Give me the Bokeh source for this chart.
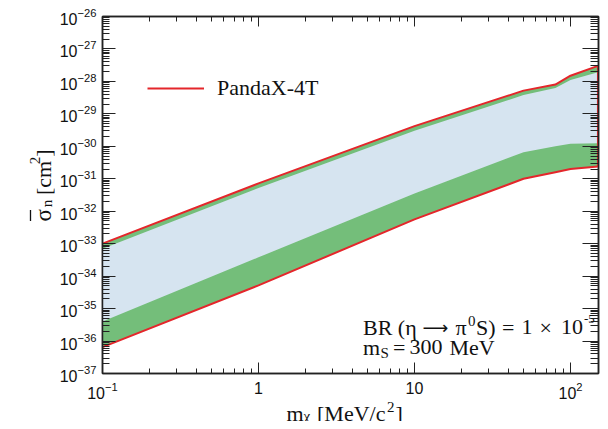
import math
from bokeh.plotting import figure
from bokeh.layouts import column, row
from bokeh.models import (LogAxis, FixedTicker, Label, Legend, LegendItem, Range1d,
                          LogTickFormatter, CustomJSTickFormatter)
from bokeh.embed import file_html
from bokeh.resources import INLINE

# ---------------- data ----------------
mchi = [0.1, 1, 10, 50, 80, 100, 150]                       # MeV/c^2
pandax_upper = [1.0e-33, 7.2e-32, 4.2e-30, 5.2e-29, 8.0e-29, 1.5e-28, 3.0e-28]
pandax_lower = [6.5e-37, 5.2e-35, 5.6e-33, 1.0e-31, 1.6e-31, 2.0e-31, 2.4e-31]
band_upper_inner = [7.0e-34, 5.2e-32, 3.0e-30, 3.8e-29, 6.3e-29, 1.1e-28, 1.9e-28]
band_lower_inner = [4.0e-36, 3.8e-34, 3.5e-32, 6.6e-31, 1.0e-30, 1.2e-30, 1.25e-30]

x_decades = [-1, 0, 1, 2]
y_decades = list(range(-37, -25))
x_label_override = {1: "1", 10: "10"}

x_min, x_max = 0.1, 151.2
y_min, y_max = 1e-37, 1e-26

GREEN = "#74be7a"
BLUE = "#d6e4f0"
RED = "#e4262b"
AX = "#222222"
TXT = "#111111"
SERIF = "Liberation Serif"
SANS = "Liberation Sans"

# ---------------- layout geometry (page pixels) ----------------
PAGE_W, PAGE_H = 608, 429
YLAB_W = 55                  # strip holding the y-axis title
MAIN_H = 406                 # height of the row with the plot
ROW_GAP = 8                  # extra height the browser adds below the row
XLAB_TOP = 390               # top of the (transparent) x-title strip
XLAB_H = PAGE_H - XLAB_TOP
FL, FT, FR, FB = 102, 16, 598, 373   # plot frame in page pixels
MAIN_W = PAGE_W - YLAB_W

p = figure(width=MAIN_W, height=MAIN_H, x_axis_type="log", y_axis_type="log",
           x_range=Range1d(x_min, x_max), y_range=Range1d(y_min, y_max),
           output_backend="svg", toolbar_location=None,
           min_border_left=FL - YLAB_W, min_border_right=PAGE_W - FR,
           min_border_top=FT, min_border_bottom=MAIN_H - FB)
p.title_location = None
p.grid.visible = False
p.outline_line_color = AX
p.outline_line_width = 1.5
p.background_fill_color = "white"
p.border_fill_color = "white"

x_major = [10.0 ** d for d in x_decades]
x_minor = [k * 10.0 ** d for d in x_decades for k in range(2, 10)]
y_major = [10.0 ** d for d in y_decades]
y_minor = [k * 10.0 ** d for d in y_decades for k in range(2, 10)]


def style_axis(ax, major_in, minor_in, labels=True):
    ax.axis_line_color = AX
    ax.axis_line_width = 1.5
    ax.major_tick_line_color = AX
    ax.minor_tick_line_color = AX
    ax.major_tick_in = major_in
    ax.major_tick_out = 0
    ax.minor_tick_in = minor_in
    ax.minor_tick_out = 0
    ax.major_tick_line_width = 1
    ax.minor_tick_line_width = 1
    if labels:
        ax.major_label_text_font = SANS
        ax.major_label_text_font_size = "16px"
        ax.major_label_text_color = TXT
    else:
        ax.formatter = CustomJSTickFormatter(code="return ''")
        ax.major_label_text_font_size = "0px"
        ax.major_label_standoff = 0


xb = p.xaxis[0]
xb.ticker = FixedTicker(ticks=x_major, minor_ticks=x_minor)
xb.formatter = LogTickFormatter()
xb.major_label_overrides = x_label_override
style_axis(xb, 11, 5)
xb.major_label_standoff = 8

yl = p.yaxis[0]
yl.ticker = FixedTicker(ticks=y_major, minor_ticks=y_minor)
yl.formatter = LogTickFormatter()
style_axis(yl, 13, 7)
yl.major_label_standoff = 6

xt = LogAxis(ticker=FixedTicker(ticks=x_major, minor_ticks=x_minor))
style_axis(xt, 10, 5, labels=False)
p.add_layout(xt, "above")

yr = LogAxis(ticker=FixedTicker(ticks=y_major, minor_ticks=y_minor))
style_axis(yr, 16, 8, labels=False)
p.add_layout(yr, "right")

# ---------------- bands and lines ----------------
p.varea(x=mchi, y1=pandax_lower, y2=pandax_upper, fill_color=GREEN)
p.varea(x=mchi, y1=band_lower_inner, y2=band_upper_inner, fill_color=BLUE)
l_up = p.line(mchi, pandax_upper, line_color=RED, line_width=2)
p.line(mchi, pandax_lower, line_color=RED, line_width=2)
p.segment(x0=mchi[-1:], y0=pandax_lower[-1:], x1=mchi[-1:], y1=pandax_upper[-1:],
          line_color=RED, line_width=2)

legend = Legend(items=[LegendItem(label="PandaX-4T", renderers=[l_up])],
                location=(45, 272), glyph_width=57, glyph_height=24, label_height=24,
                label_standoff=13, padding=0, margin=0, spacing=0,
                border_line_color=None, background_fill_alpha=0,
                label_text_font=SERIF, label_text_font_size="22px", label_text_color=TXT)
p.add_layout(legend)


# ---------------- title strips ----------------
def strip(w, h, x0, y0):
    f = figure(width=w, height=h, x_range=Range1d(x0, x0 + w), y_range=Range1d(y0 + h, y0),
               output_backend="svg", toolbar_location=None,
               x_axis_location=None, y_axis_location=None, min_border=0)
    f.title_location = None
    f.grid.visible = False
    f.outline_line_color = None
    f.background_fill_alpha = 0
    f.border_fill_alpha = 0
    return f


ylab = strip(YLAB_W, MAIN_H, 0, 0)
xlab = strip(PAGE_W, XLAB_H, 0, XLAB_TOP)
xlab.margin = (XLAB_TOP - MAIN_H - ROW_GAP, 0, 0, 0)   # pull the strip up over the gap

# ---------------- text helpers ----------------
LX = math.log10(x_max) - math.log10(x_min)
LY = math.log10(y_max) - math.log10(y_min)


def X(px):
    return 10 ** (math.log10(x_min) + (px - FL) / (FR - FL) * LX)


def Y(py):
    return 10 ** (math.log10(y_max) - (py - FT) / (FB - FT) * LY)


def ident(v):
    return v


def put(fig, fx, fy, pieces, vertical=False):
    """pieces: (text, size, px, py[, font]) with page-pixel anchor at the text baseline start"""
    for piece in pieces:
        text, size, px, py = piece[:4]
        font = piece[4] if len(piece) > 4 else SERIF
        lab = Label(x=fx(px), y=fy(py), text=text, text_font=font,
                    text_font_size=f"{size}px", text_color=TXT,
                    text_align="left", text_baseline="alphabetic",
                    angle=math.pi / 2 if vertical else 0)
        fig.add_layout(lab)


# BR (eta -> pi0 S) = 1 x 10^-5
put(p, X, Y, [("BR (η", 22, 362.5, 326.5),
              ("⟶", 18, 422, 326.5, "DejaVu Sans"),
              ("π", 22, 455, 326.5),
              ("0", 15, 467.5, 320.5),
              ("S)", 22, 475.5, 326.5),
              ("=", 22, 501.5, 326.5),
              ("1", 22, 521, 326.5),
              ("×", 22, 539, 326.5),
              ("10", 22, 560.5, 326.5),
              ("-5", 13, 583.5, 318.5)])
# m_S = 300 MeV
put(p, X, Y, [("m", 22, 362.5, 346.5),
              ("S", 15, 380, 352.5),
              ("=", 22, 392.5, 346.5),
              ("300", 22, 409, 346.5),
              ("MeV", 22, 449, 346.5)])
# m_chi [MeV/c^2]
put(xlab, ident, ident, [("m", 22, 286, 420.5),
                         ("χ", 15, 303, 423.5),
                         ("[MeV/c", 22, 316.5, 420.5),
                         ("2", 15, 386.5, 414.5),
                         ("]", 22, 395, 420.5)])
# sigma_bar_n [cm^2]
put(ylab, ident, ident, [("σ", 23, 43, 233),
                         ("n", 15, 46, 217),
                         ("[cm", 22, 43, 203),
                         ("2", 15, 34, 168),
                         ("]", 22, 43, 159.5)], vertical=True)
ylab.segment(x0=[30], y0=[232.5], x1=[30], y1=[220], line_color=TXT, line_width=1.3)

layout = column(row(ylab, p), xlab)
open("out.html", "w").write(file_html(layout, INLINE))
